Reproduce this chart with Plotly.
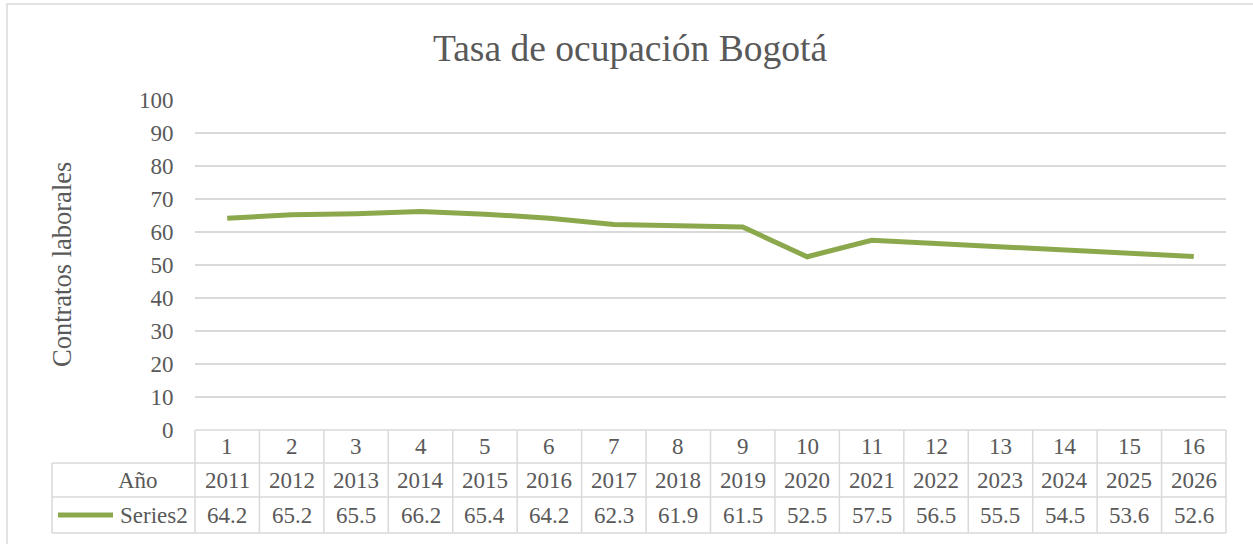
import plotly.graph_objects as go

# ---- data ----
categories = list(range(1, 17))
years = [2011, 2012, 2013, 2014, 2015, 2016, 2017, 2018, 2019, 2020,
         2021, 2022, 2023, 2024, 2025, 2026]
series2 = [64.2, 65.2, 65.5, 66.2, 65.4, 64.2, 62.3, 61.9, 61.5, 52.5,
           57.5, 56.5, 55.5, 54.5, 53.6, 52.6]
title_text = "Tasa de ocupación Bogotá"
y_title = "Contratos laborales"
row_label_year = "Año"
series_name = "Series2"

# ---- style ----
W, H = 1253, 544
L, R, T, B = 195, 1226, 100, 430
GREEN = "#8CA84D"
TXT = "#595959"
GRID = "#D9D9D9"
FONT = "Liberation Serif"
FS = 23

x0, x1 = categories[0] - 0.5, categories[-1] + 0.5


def px(xpix):
    return (xpix - L) / (R - L)


def py(ypix):
    return (B - ypix) / (B - T)


def xdata_to_paper(v):
    return (v - x0) / (x1 - x0)


fig = go.Figure()
fig.add_trace(go.Scatter(
    x=categories, y=series2, mode="lines", name=series_name,
    line=dict(color=GREEN, width=5), showlegend=False,
))

shapes = []
annotations = []

# chart border (top & left visible)
shapes.append(dict(type="rect", xref="paper", yref="paper",
                   x0=px(7), x1=px(1300), y0=py(600), y1=py(4),
                   line=dict(color=GRID, width=1.5)))

# table rows (pixel y positions)
row_y = [430, 463, 497, 533]
tl = dict(color=GRID, width=1.5)
shapes.append(dict(type="line", xref="paper", yref="paper",
                   x0=0, x1=1, y0=py(row_y[0]), y1=py(row_y[0]), line=tl))
for yy in row_y[1:]:
    shapes.append(dict(type="line", xref="paper", yref="paper",
                       x0=px(52), x1=1, y0=py(yy), y1=py(yy), line=tl))
for c in categories + [categories[-1] + 1]:
    xp = xdata_to_paper(c - 0.5)
    shapes.append(dict(type="line", xref="paper", yref="paper",
                       x0=xp, x1=xp, y0=py(row_y[0]), y1=py(row_y[3]), line=tl))
shapes.append(dict(type="line", xref="paper", yref="paper",
                   x0=px(52), x1=px(52), y0=py(row_y[1]), y1=py(row_y[3]), line=tl))

# legend key line
shapes.append(dict(type="line", xref="paper", yref="paper",
                   x0=px(58), x1=px(113), y0=py(515), y1=py(515),
                   line=dict(color=GREEN, width=5)))

row_centers = [(row_y[i] + row_y[i + 1]) / 2 for i in range(3)]
tf = dict(family=FONT, size=FS, color=TXT)
for c, yr, v in zip(categories, years, series2):
    xp = xdata_to_paper(c)
    for txt, yc in ((str(c), row_centers[0]), (str(yr), row_centers[1]),
                    (f"{v:.1f}", row_centers[2])):
        annotations.append(dict(xref="paper", yref="paper", x=xp, y=py(yc),
                                text=txt, showarrow=False, font=tf,
                                xanchor="center", yanchor="middle"))

annotations.append(dict(xref="paper", yref="paper", x=px(138), y=py(row_centers[1]),
                        text=row_label_year, showarrow=False, font=tf,
                        xanchor="center", yanchor="middle"))
annotations.append(dict(xref="paper", yref="paper", x=px(190), y=py(row_centers[2]),
                        text=series_name, showarrow=False, font=tf,
                        xanchor="right", yanchor="middle"))

annotations.append(dict(xref="paper", yref="paper", x=px(62), y=0.5,
                        text=y_title, showarrow=False, textangle=-90,
                        font=dict(family=FONT, size=26.5, color=TXT),
                        xanchor="center", yanchor="middle"))

fig.update_layout(
    width=W, height=H,
    margin=dict(l=L, r=W - R, t=T, b=H - B, pad=0),
    paper_bgcolor="white", plot_bgcolor="white",
    font=dict(family=FONT, color=TXT),
    title=dict(text=title_text, x=630 / W, xanchor="center",
               y=1 - 48 / H, yanchor="middle",
               font=dict(family=FONT, size=37.5, color=TXT)),
    xaxis=dict(range=[x0, x1], showticklabels=False, showgrid=False,
               zeroline=False, showline=False, ticks=""),
    yaxis=dict(range=[0, 100], dtick=10, tick0=0, showgrid=True,
               gridcolor=GRID, gridwidth=1.5, zeroline=False, showline=False,
               ticks="outside", ticklen=0, ticklabelstandoff=16,
               tickfont=dict(family=FONT, size=FS, color=TXT)),
    shapes=shapes, annotations=annotations,
)

fig.write_html("out.html",
               config={"displayModeBar": False},
               post_script="document.body.style.margin='0px';"
                           "document.body.style.overflow='hidden';")
